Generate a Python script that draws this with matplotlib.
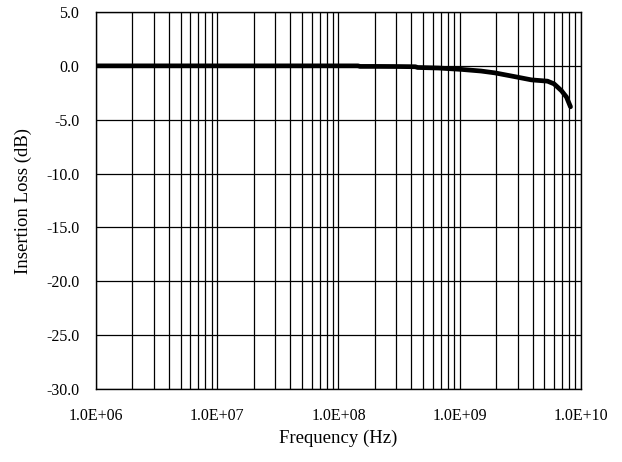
import matplotlib
matplotlib.use("Agg")
import matplotlib.pyplot as plt
from matplotlib.ticker import FixedLocator, LogLocator, NullFormatter

plt.rcParams['font.family'] = ['Liberation Serif', 'DejaVu Serif']

freq_hz = [1e6, 2e6, 5e6, 1e7, 2e7, 5e7, 1e8, 1.45e8, 1.5e8, 2e8, 3e8, 4.3e8,
           4.5e8, 6.7e8, 1.04e9, 1.5e9, 1.95e9, 3.0e9, 3.9e9, 5.3e9, 6.0e9,
           6.9e9, 7.6e9, 8.2e9]
insertion_loss_db = [0.0, 0.0, 0.0, 0.0, 0.0, 0.0, 0.0, 0.0, -0.05, -0.05, -0.06,
                     -0.08, -0.15, -0.2, -0.33, -0.48, -0.65, -1.05, -1.3, -1.42,
                     -1.67, -2.3, -2.9, -3.8]

x_ticks = [1e6, 1e7, 1e8, 1e9, 1e10]
x_tick_labels = ["1.0E+06", "1.0E+07", "1.0E+08", "1.0E+09", "1.0E+10"]
y_ticks = [5, 0, -5, -10, -15, -20, -25, -30]
y_tick_labels = ["5.0", "0.0", "-5.0", "-10.0", "-15.0", "-20.0", "-25.0", "-30.0"]

fig = plt.figure(figsize=(6.22, 4.62), dpi=100)
ax = fig.add_axes([0.1543, 0.158, 0.7797, 0.816])

ax.plot(freq_hz, insertion_loss_db, color='black', linewidth=3.4, solid_capstyle='round')

ax.set_xscale('log')
ax.set_xlim(1e6, 1e10)
ax.set_ylim(-30, 5)

ax.xaxis.set_major_locator(FixedLocator(x_ticks))
ax.set_xticklabels(x_tick_labels)
ax.xaxis.set_minor_locator(LogLocator(base=10, subs=range(2, 10), numticks=50))
ax.xaxis.set_minor_formatter(NullFormatter())
ax.set_yticks(y_ticks)
ax.set_yticklabels(y_tick_labels)

ax.grid(True, which='major', axis='both', color='black', linewidth=0.9)
ax.grid(True, which='minor', axis='x', color='black', linewidth=0.9)
ax.tick_params(which='both', length=0, labelsize=11.5, colors='black')
ax.tick_params(axis='x', pad=13.5)
ax.tick_params(axis='y', pad=12)

for s in ax.spines.values():
    s.set_color('black')
    s.set_linewidth(1.0)

ax.set_xlabel("Frequency (Hz)", fontsize=13.5)
ax.set_ylabel("Insertion Loss (dB)", fontsize=13.5)
ax.xaxis.set_label_coords(0.5, -0.108)
ax.yaxis.set_label_coords(-0.131, 0.5)

fig.savefig("out.png", dpi=100)
